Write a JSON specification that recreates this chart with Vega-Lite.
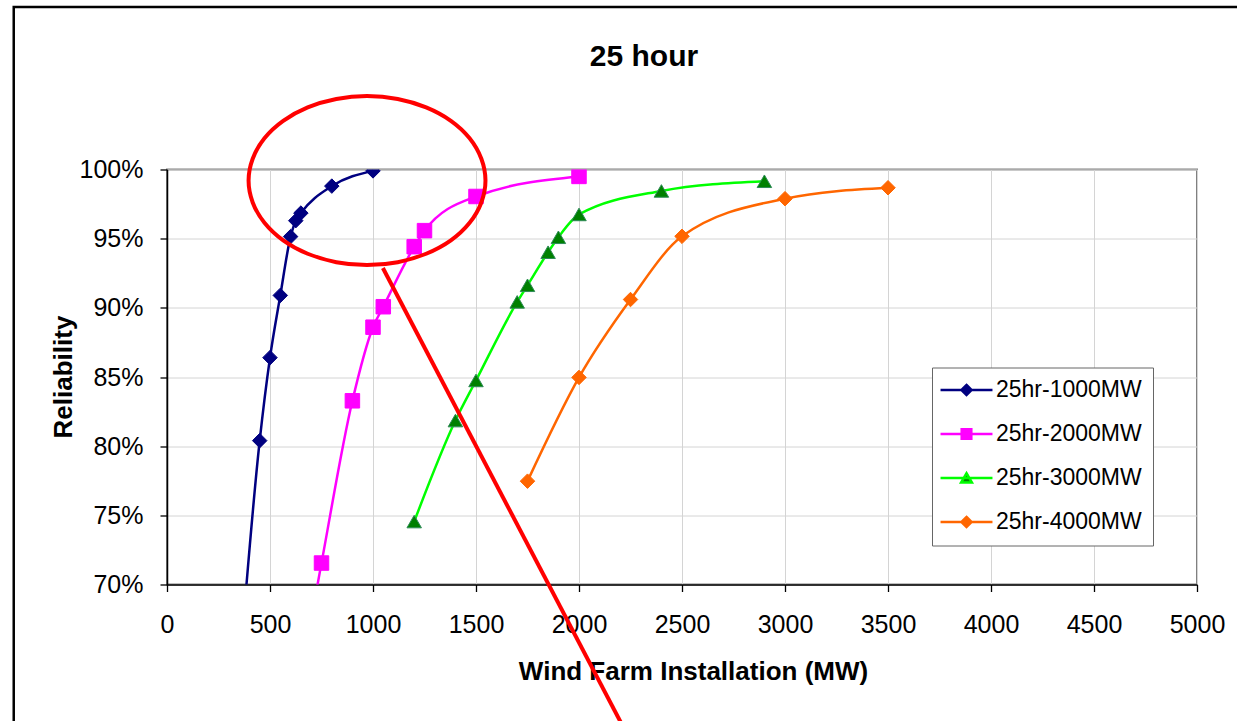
{
  "$schema": "https://vega.github.io/schema/vega-lite/v6.json",
  "width": 1030,
  "height": 415,
  "autosize": {"type": "none"},
  "padding": {"left": 167, "top": 169.5, "right": 40, "bottom": 136.5},
  "background": "white",
  "title": {
    "text": "25 hour",
    "font": "Liberation Sans",
    "fontSize": 30,
    "fontWeight": "bold",
    "color": "black",
    "anchor": "middle",
    "frame": "group",
    "baseline": "alphabetic",
    "offset": -90,
    "dx": -38
  },
  "config": {
    "view": {"stroke": "#808080", "strokeWidth": 2},
    "font": "Liberation Sans"
  },
  "datasets": {
    "series": [
      {"series": "25hr-1000MW", "mw": 350, "rel": 63.5},
      {"series": "25hr-1000MW", "mw": 450, "rel": 80.4},
      {"series": "25hr-1000MW", "mw": 500, "rel": 86.4},
      {"series": "25hr-1000MW", "mw": 550, "rel": 90.9},
      {"series": "25hr-1000MW", "mw": 600, "rel": 95.15},
      {"series": "25hr-1000MW", "mw": 625, "rel": 96.3},
      {"series": "25hr-1000MW", "mw": 650, "rel": 96.85},
      {"series": "25hr-1000MW", "mw": 800, "rel": 98.8},
      {"series": "25hr-1000MW", "mw": 1000, "rel": 99.9},
      {"series": "25hr-2000MW", "mw": 700, "rel": 67.5},
      {"series": "25hr-2000MW", "mw": 750, "rel": 71.55},
      {"series": "25hr-2000MW", "mw": 900, "rel": 83.28},
      {"series": "25hr-2000MW", "mw": 1000, "rel": 88.6},
      {"series": "25hr-2000MW", "mw": 1050, "rel": 90.08},
      {"series": "25hr-2000MW", "mw": 1200, "rel": 94.42},
      {"series": "25hr-2000MW", "mw": 1250, "rel": 95.58},
      {"series": "25hr-2000MW", "mw": 1500, "rel": 98.05},
      {"series": "25hr-2000MW", "mw": 2000, "rel": 99.5},
      {"series": "25hr-3000MW", "mw": 1200, "rel": 74.55},
      {"series": "25hr-3000MW", "mw": 1400, "rel": 81.85},
      {"series": "25hr-3000MW", "mw": 1500, "rel": 84.75},
      {"series": "25hr-3000MW", "mw": 1700, "rel": 90.43},
      {"series": "25hr-3000MW", "mw": 1750, "rel": 91.63},
      {"series": "25hr-3000MW", "mw": 1850, "rel": 94.02},
      {"series": "25hr-3000MW", "mw": 1900, "rel": 95.1},
      {"series": "25hr-3000MW", "mw": 2000, "rel": 96.75},
      {"series": "25hr-3000MW", "mw": 2400, "rel": 98.45},
      {"series": "25hr-3000MW", "mw": 2900, "rel": 99.15},
      {"series": "25hr-4000MW", "mw": 1750, "rel": 77.47},
      {"series": "25hr-4000MW", "mw": 2000, "rel": 84.97},
      {"series": "25hr-4000MW", "mw": 2250, "rel": 90.6},
      {"series": "25hr-4000MW", "mw": 2500, "rel": 95.17},
      {"series": "25hr-4000MW", "mw": 3000, "rel": 97.89},
      {"series": "25hr-4000MW", "mw": 3500, "rel": 98.68}
    ],
    "ellipse": [
      {"i": 0, "mw": 1546, "rel": 99.2},
      {"i": 1, "mw": 1526, "rel": 100.78},
      {"i": 2, "mw": 1469, "rel": 102.26},
      {"i": 3, "mw": 1378, "rel": 103.52},
      {"i": 4, "mw": 1258, "rel": 104.49},
      {"i": 5, "mw": 1120, "rel": 105.1},
      {"i": 6, "mw": 971, "rel": 105.31},
      {"i": 7, "mw": 822, "rel": 105.1},
      {"i": 8, "mw": 683, "rel": 104.49},
      {"i": 9, "mw": 564, "rel": 103.52},
      {"i": 10, "mw": 473, "rel": 102.26},
      {"i": 11, "mw": 416, "rel": 100.78},
      {"i": 12, "mw": 396, "rel": 99.2},
      {"i": 13, "mw": 416, "rel": 97.62},
      {"i": 14, "mw": 473, "rel": 96.15},
      {"i": 15, "mw": 564, "rel": 94.88},
      {"i": 16, "mw": 683, "rel": 93.91},
      {"i": 17, "mw": 822, "rel": 93.3},
      {"i": 18, "mw": 971, "rel": 93.09},
      {"i": 19, "mw": 1120, "rel": 93.3},
      {"i": 20, "mw": 1258, "rel": 93.91},
      {"i": 21, "mw": 1378, "rel": 94.88},
      {"i": 22, "mw": 1469, "rel": 96.15},
      {"i": 23, "mw": 1526, "rel": 97.62}
    ],
    "pointer": [
      {"mw": 1048, "rel": 92.88},
      {"mw": 2248, "rel": 58.75}
    ],
    "frame": [
      {"mw": -744, "mw2": 6500, "rel": 111.74, "rel2": 30}
    ]
  },
  "encoding": {
    "x": {
      "field": "mw",
      "type": "quantitative",
      "scale": {"domain": [0, 5000], "nice": false, "zero": false},
      "axis": {
        "title": "Wind Farm Installation (MW)",
        "values": [0, 500, 1000, 1500, 2000, 2500, 3000, 3500, 4000, 4500, 5000],
        "format": "d",
        "grid": true,
        "gridColor": "#d4d4d4",
        "gridWidth": 1,
        "domainColor": "black",
        "domainWidth": 1.5,
        "tickColor": "black",
        "tickSize": 7,
        "tickWidth": 1.3,
        "labelFont": "Liberation Sans",
        "labelFontSize": 25,
        "labelColor": "black",
        "labelPadding": 21,
        "labelFlush": false,
        "labelOverlap": false,
        "titleFont": "Liberation Sans",
        "titleFontSize": 26,
        "titleFontWeight": "bold",
        "titleColor": "black",
        "titleX": 526,
        "titleY": 95,
        "titleAlign": "center",
        "titleBaseline": "alphabetic"
      }
    },
    "y": {
      "field": "rel",
      "type": "quantitative",
      "scale": {"domain": [70, 100], "nice": false, "zero": false},
      "axis": {
        "title": "Reliability",
        "values": [70, 75, 80, 85, 90, 95, 100],
        "labelExpr": "datum.value + '%'",
        "grid": true,
        "gridColor": "#d4d4d4",
        "gridWidth": 1,
        "domainColor": "black",
        "domainWidth": 1.5,
        "tickColor": "black",
        "tickSize": 7,
        "tickWidth": 1.3,
        "labelFont": "Liberation Sans",
        "labelFontSize": 25,
        "labelColor": "black",
        "labelPadding": 17,
        "labelOverlap": false,
        "titleFont": "Liberation Sans",
        "titleFontSize": 26,
        "titleFontWeight": "bold",
        "titleColor": "black",
        "titleAngle": -90,
        "titleX": -96,
        "titleY": 207,
        "titleAlign": "center",
        "titleBaseline": "alphabetic"
      }
    }
  },
  "layer": [
    {
      "data": {"name": "frame"},
      "mark": {"type": "rect", "filled": false, "stroke": "black", "strokeWidth": 2.5, "clip": false},
      "encoding": {
        "x2": {"field": "mw2"},
        "y2": {"field": "rel2"}
      }
    },
    {
      "data": {"name": "series"},
      "mark": {"type": "line", "interpolate": "monotone", "strokeWidth": 2.5, "clip": true},
      "encoding": {
        "color": {
          "field": "series",
          "type": "nominal",
          "scale": {
            "domain": ["25hr-1000MW", "25hr-2000MW", "25hr-3000MW", "25hr-4000MW"],
            "range": ["#000080", "#FF00FF", "#00FF00", "#FF6600"]
          },
          "legend": null
        }
      }
    },
    {
      "data": {"name": "series"},
      "mark": {"type": "point", "filled": true, "size": 210, "strokeWidth": 1, "opacity": 1, "clip": true},
      "encoding": {
        "shape": {
          "field": "series",
          "type": "nominal",
          "scale": {
            "domain": ["25hr-1000MW", "25hr-2000MW", "25hr-3000MW", "25hr-4000MW"],
            "range": ["diamond", "square", "triangle-up", "diamond"]
          },
          "legend": null
        },
        "fill": {
          "field": "series",
          "type": "nominal",
          "scale": {
            "domain": ["25hr-1000MW", "25hr-2000MW", "25hr-3000MW", "25hr-4000MW"],
            "range": ["#000080", "#FF00FF", "#008000", "#FF6600"]
          },
          "legend": null
        },
        "stroke": {
          "field": "series",
          "type": "nominal",
          "scale": {
            "domain": ["25hr-1000MW", "25hr-2000MW", "25hr-3000MW", "25hr-4000MW"],
            "range": ["#000080", "#FF00FF", "#2E8B57", "#FF6600"]
          },
          "legend": null
        }
      }
    },
    {
      "data": {"name": "ellipse"},
      "mark": {"type": "line", "interpolate": "cardinal-closed", "stroke": "#FF0000", "strokeWidth": 4, "clip": false},
      "encoding": {
        "order": {"field": "i", "type": "quantitative"}
      }
    },
    {
      "data": {"name": "pointer"},
      "mark": {"type": "line", "stroke": "#FF0000", "strokeWidth": 4, "clip": false},
      "encoding": {}
    },
    {
      "data": {"name": "series"},
      "transform": [{"filter": "false"}],
      "mark": {"type": "point", "filled": true, "strokeWidth": 2.5, "opacity": 1},
      "encoding": {
        "shape": {
          "field": "series",
          "type": "nominal",
          "scale": {
            "domain": ["25hr-1000MW", "25hr-2000MW", "25hr-3000MW", "25hr-4000MW"],
            "range": [
              "M-4.33,0H4.33M0,-0.85L0.85,0L0,0.85L-0.85,0Z",
              "M-4.33,0H4.33M-0.8,-0.8H0.8V0.8H-0.8Z",
              "M-4.33,0H4.33M0,-0.8L0.9,0.75L-0.9,0.75Z",
              "M-4.33,0H4.33M0,-0.85L0.85,0L0,0.85L-0.85,0Z"
            ]
          },
          "legend": {
            "title": null,
            "orient": "none",
            "legendX": 765,
            "legendY": 198,
            "padding": 11,
            "strokeColor": "#666666",
            "fillColor": "white",
            "cornerRadius": 0,
            "labelFont": "Liberation Sans",
            "labelFontSize": 23,
            "labelColor": "black",
            "labelLimit": 400,
            "symbolSize": 144,
            "symbolStrokeWidth": 2.5,
            "symbolOffset": 12,
            "labelOffset": 18,
            "rowPadding": 20
          }
        },
        "fill": {
          "field": "series",
          "type": "nominal",
          "scale": {
            "domain": ["25hr-1000MW", "25hr-2000MW", "25hr-3000MW", "25hr-4000MW"],
            "range": ["#000080", "#FF00FF", "#008000", "#FF6600"]
          },
          "legend": {
            "title": null,
            "orient": "none",
            "legendX": 765,
            "legendY": 198
          }
        },
        "stroke": {
          "field": "series",
          "type": "nominal",
          "scale": {
            "domain": ["25hr-1000MW", "25hr-2000MW", "25hr-3000MW", "25hr-4000MW"],
            "range": ["#000080", "#FF00FF", "#00FF00", "#FF6600"]
          },
          "legend": {
            "title": null,
            "orient": "none",
            "legendX": 765,
            "legendY": 198
          }
        }
      }
    }
  ],
  "resolve": {
    "scale": {"color": "independent", "fill": "independent", "stroke": "independent", "shape": "independent"}
  }
}
